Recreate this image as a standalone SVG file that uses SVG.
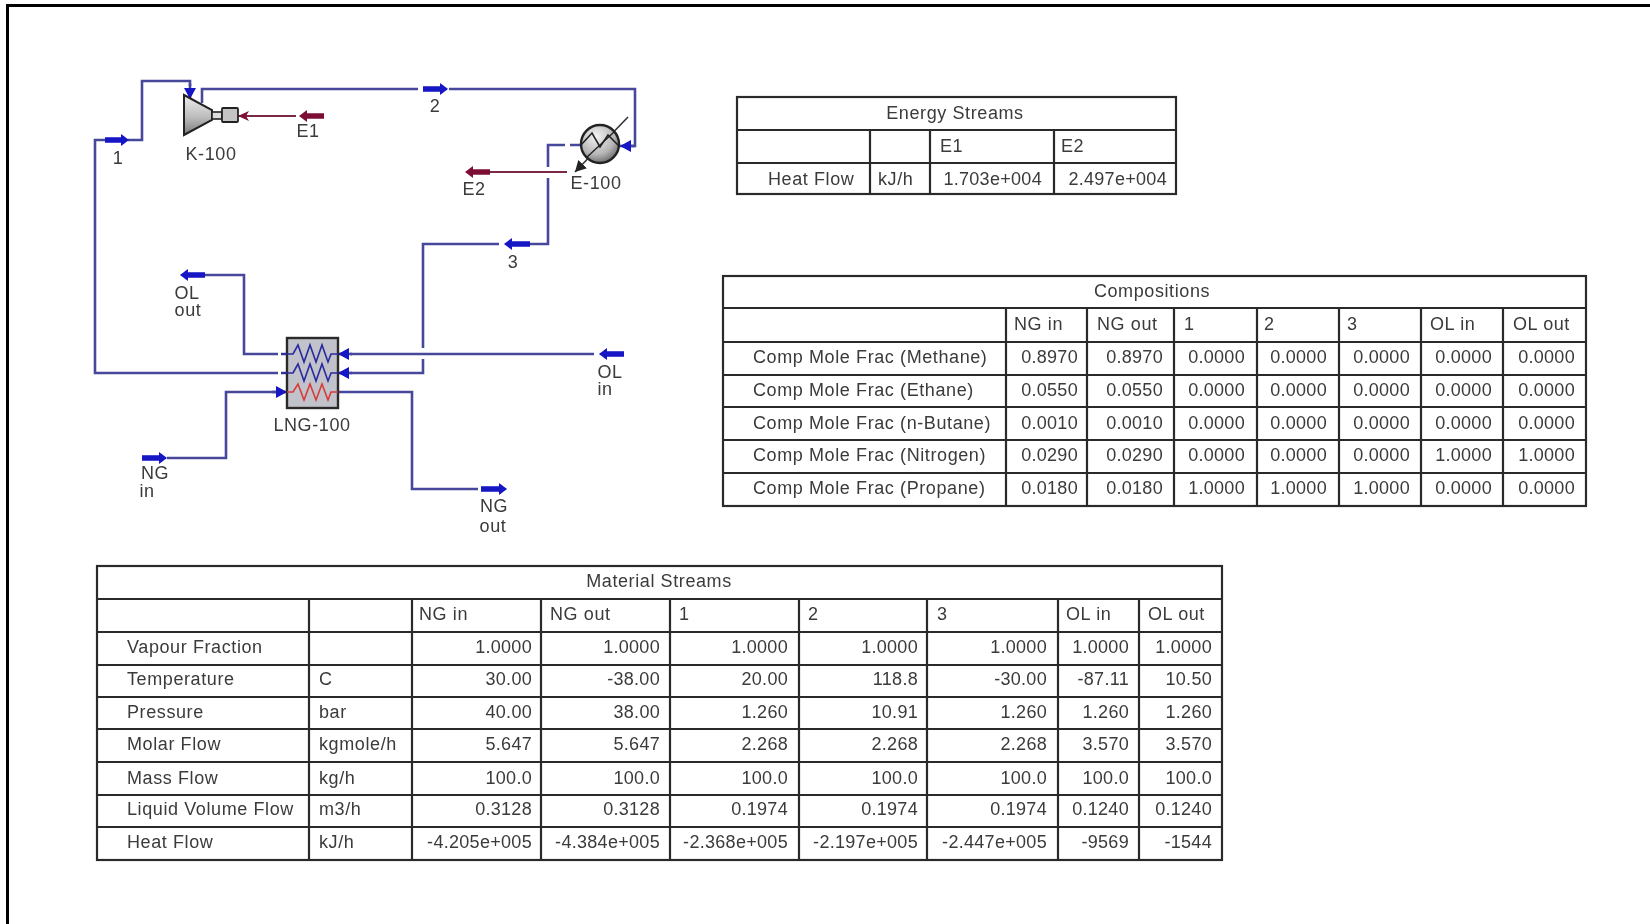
<svg xmlns="http://www.w3.org/2000/svg" width="1650" height="924" viewBox="0 0 1650 924">
<style>
text{font-family:"Liberation Sans",Arial,sans-serif;font-size:18px;letter-spacing:.6px;fill:#3a3a3a}
.r{text-anchor:end;letter-spacing:.3px}.m{text-anchor:middle}
.grid{fill:#fff;stroke:#2b2b2b;stroke-width:2.2}
.c{fill:none;stroke:#46469c;stroke-width:2.6}
.e{fill:none;stroke:#7a2c44;stroke-width:2}
.sm{fill:none;stroke:#1212c4;stroke-width:5.5;marker-end:url(#hb)}
.se{fill:none;stroke:#7d0f35;stroke-width:5.5;marker-end:url(#hr)}
.end{marker-end:url(#ab)}
.ende{marker-end:url(#ar)}
</style>
<defs>
<filter id="soft" x="-2%" y="-2%" width="104%" height="104%"><feGaussianBlur stdDeviation="0.55"/></filter>
<linearGradient id="steel" x1="0" y1="0" x2="0" y2="1"><stop offset="0" stop-color="#eeeeee"/><stop offset=".55" stop-color="#bdbdbd"/><stop offset="1" stop-color="#7b7b7b"/></linearGradient>
<radialGradient id="ball" cx=".4" cy=".3" r=".8"><stop offset="0" stop-color="#f4f4f4"/><stop offset=".6" stop-color="#b5b5b5"/><stop offset="1" stop-color="#555"/></radialGradient>
<marker id="hb" markerUnits="userSpaceOnUse" markerWidth="10" markerHeight="14" refX="1" refY="7" orient="auto"><path d="M0 1L8 7L0 13Z" fill="#1212c4"/></marker>
<marker id="hr" markerUnits="userSpaceOnUse" markerWidth="10" markerHeight="14" refX="1" refY="7" orient="auto"><path d="M0 1L8 7L0 13Z" fill="#7d0f35"/></marker>
<marker id="ab" markerUnits="userSpaceOnUse" markerWidth="12" markerHeight="14" refX="11" refY="7" orient="auto"><path d="M0 1L11 7L0 13Z" fill="#1212c4"/></marker>
<marker id="ar" markerUnits="userSpaceOnUse" markerWidth="12" markerHeight="14" refX="11" refY="7" orient="auto"><path d="M0 2L11 7L0 12L3 7Z" fill="#7d0f35"/></marker>
<marker id="ak" markerUnits="userSpaceOnUse" markerWidth="12" markerHeight="14" refX="11" refY="7" orient="auto"><path d="M0 1L11 7L0 13Z" fill="#222"/></marker>
</defs>
<rect width="1650" height="924" fill="#fff"/>
<path d="M7.5 924V5.5H1650" fill="none" stroke="#000" stroke-width="3"/>
<g filter="url(#soft)">
<g id="connectors">
<path class="c" d="M278 373H95V140H105"/>
<path class="c" d="M128 140H142V81H190V86"/>
<path class="c end" d="M190 84V99" />
<path class="c" d="M202 103V89H418"/>
<path class="c" d="M449 89H635V146H630"/>
<path class="c end" d="M635 146H620"/>
<path class="c" d="M580 145H570M565 145H548V167M548 178V244H530"/>
<path class="c" d="M499 244H423V348M423 359V373H350"/>
<path class="c end" d="M352 373H338"/>
<path class="c" d="M594 354H350"/>
<path class="c end" d="M352 354H338"/>
<path class="c" d="M278 354H244V275H203"/>
<path class="c" d="M167 458H226V392H280"/>
<path class="c end" d="M272 392H287"/>
<path class="c" d="M338 392H412V489H478"/>
<path class="c" d="M281 373H287M281 354H287"/>
<path class="e" d="M296 116H250"/>
<path class="e ende" d="M256 116H238"/>
<path class="e" d="M567 172H490"/>
<path d="M628 117L575 172" fill="none" stroke="#333" stroke-width="1.6" marker-end="url(#ak)"/>
</g>
<g id="node-K-100">
<polygon points="184,95 212,110 212,120 184,135" fill="url(#steel)" stroke="#222" stroke-width="2"/>
<rect x="212" y="112" width="10" height="7" fill="#ddd" stroke="#222" stroke-width="1.6"/>
<rect x="222" y="108" width="16" height="14" rx="1" fill="#c4c4c4" stroke="#222" stroke-width="1.8"/>
<text class="m" x="211" y="160">K-100</text>
</g>
<g id="node-E-100">
<circle cx="600" cy="144" r="19" fill="url(#ball)" stroke="#222" stroke-width="2.4"/>
<path d="M581 145L592 133L600 147L608 135L619 146" fill="none" stroke="#222" stroke-width="1.6"/>
<path d="M614 132L586 158" fill="none" stroke="#222" stroke-width="1.4"/>
<text class="m" x="596" y="189">E-100</text>
</g>
<g id="node-LNG-100">
<rect x="287" y="338" width="51" height="70" fill="#c2c2ca" stroke="#2b2b2b" stroke-width="2.4"/>
<path d="M281 354H293L298 345L304 362L310 345L316 362L322 345L328 362L331 354H338" fill="none" stroke="#2a2aa0" stroke-width="1.6"/>
<path d="M281 373H293L298 364L304 381L310 364L316 381L322 364L328 381L331 373H338" fill="none" stroke="#2a2aa0" stroke-width="1.6"/>
<path d="M287 392H293L298 384L304 400L310 384L316 400L322 384L328 400L331 392H338" fill="none" stroke="#d83a3a" stroke-width="1.6"/>
<text class="m" x="312" y="431">LNG-100</text>
</g>
<g id="stream-1"><path class="sm" d="M105 140H122"/><text class="m" x="118" y="164">1</text></g>
<g id="stream-2"><path class="sm" d="M423 89H441"/><text class="m" x="435" y="112">2</text></g>
<g id="stream-3"><path class="sm" d="M530 244H511"/><text class="m" x="513" y="268">3</text></g>
<g id="stream-E1"><path class="se" d="M324 116H306"/><text class="m" x="308" y="137">E1</text></g>
<g id="stream-E2"><path class="se" d="M490 172H472"/><text class="m" x="474" y="195">E2</text></g>
<g id="stream-OL-out"><path class="sm" d="M205 275H187"/><text class="m" x="187" y="299">OL</text><text class="m" x="188" y="316">out</text></g>
<g id="stream-OL-in"><path class="sm" d="M624 354H606"/><text class="m" x="610" y="378">OL</text><text class="m" x="605" y="395">in</text></g>
<g id="stream-NG-in"><path class="sm" d="M142 458H160"/><text class="m" x="155" y="479">NG</text><text class="m" x="147" y="497">in</text></g>
<g id="stream-NG-out"><path class="sm" d="M481 489H500"/><text class="m" x="494" y="512">NG</text><text class="m" x="493" y="532">out</text></g>

<g id="table-energy">
<rect class="grid" x="737" y="97" width="439" height="97"/>
<path class="grid" d="M737 130H1176M737 163H1176M870 130V194M930 130V194M1054 130V194"/>
<text class="m" x="955" y="119">Energy Streams</text>
<text x="940" y="152">E1</text><text x="1061" y="152">E2</text>
<text x="768" y="185">Heat Flow</text><text x="878" y="185">kJ/h</text>
<text class="r" x="1042" y="185">1.703e+004</text><text class="r" x="1167" y="185">2.497e+004</text>
</g>

<g id="table-compositions">
<rect class="grid" x="723" y="276" width="863" height="230"/>
<path class="grid" d="M723 308H1586M723 342H1586M723 375H1586M723 407H1586M723 440H1586M723 473H1586M1006 308V506M1087 308V506M1174 308V506M1257 308V506M1339 308V506M1421 308V506M1503 308V506"/>
<text class="m" x="1152" y="297">Compositions</text>
<text x="1014" y="330">NG in</text><text x="1097" y="330">NG out</text><text x="1184" y="330">1</text><text x="1264" y="330">2</text><text x="1347" y="330">3</text><text x="1430" y="330">OL in</text><text x="1513" y="330">OL out</text>
<text x="753" y="363">Comp Mole Frac (Methane)</text><text class="r" x="1078" y="363">0.8970</text><text class="r" x="1163" y="363">0.8970</text><text class="r" x="1245" y="363">0.0000</text><text class="r" x="1327" y="363">0.0000</text><text class="r" x="1410" y="363">0.0000</text><text class="r" x="1492" y="363">0.0000</text><text class="r" x="1575" y="363">0.0000</text>
<text x="753" y="396">Comp Mole Frac (Ethane)</text><text class="r" x="1078" y="396">0.0550</text><text class="r" x="1163" y="396">0.0550</text><text class="r" x="1245" y="396">0.0000</text><text class="r" x="1327" y="396">0.0000</text><text class="r" x="1410" y="396">0.0000</text><text class="r" x="1492" y="396">0.0000</text><text class="r" x="1575" y="396">0.0000</text>
<text x="753" y="429">Comp Mole Frac (n-Butane)</text><text class="r" x="1078" y="429">0.0010</text><text class="r" x="1163" y="429">0.0010</text><text class="r" x="1245" y="429">0.0000</text><text class="r" x="1327" y="429">0.0000</text><text class="r" x="1410" y="429">0.0000</text><text class="r" x="1492" y="429">0.0000</text><text class="r" x="1575" y="429">0.0000</text>
<text x="753" y="461">Comp Mole Frac (Nitrogen)</text><text class="r" x="1078" y="461">0.0290</text><text class="r" x="1163" y="461">0.0290</text><text class="r" x="1245" y="461">0.0000</text><text class="r" x="1327" y="461">0.0000</text><text class="r" x="1410" y="461">0.0000</text><text class="r" x="1492" y="461">1.0000</text><text class="r" x="1575" y="461">1.0000</text>
<text x="753" y="494">Comp Mole Frac (Propane)</text><text class="r" x="1078" y="494">0.0180</text><text class="r" x="1163" y="494">0.0180</text><text class="r" x="1245" y="494">1.0000</text><text class="r" x="1327" y="494">1.0000</text><text class="r" x="1410" y="494">1.0000</text><text class="r" x="1492" y="494">0.0000</text><text class="r" x="1575" y="494">0.0000</text>
</g>

<g id="table-material">
<rect class="grid" x="97" y="566" width="1125" height="294"/>
<path class="grid" d="M97 599H1222M97 632H1222M97 665H1222M97 697H1222M97 729H1222M97 762H1222M97 795H1222M97 827H1222M309 599V860M412 599V860M541 599V860M670 599V860M799 599V860M927 599V860M1058 599V860M1139 599V860"/>
<text class="m" x="659" y="587">Material Streams</text>
<text x="419" y="620">NG in</text><text x="550" y="620">NG out</text><text x="679" y="620">1</text><text x="808" y="620">2</text><text x="937" y="620">3</text><text x="1066" y="620">OL in</text><text x="1148" y="620">OL out</text>
<text x="127" y="653">Vapour Fraction</text><text class="r" x="532" y="653">1.0000</text><text class="r" x="660" y="653">1.0000</text><text class="r" x="788" y="653">1.0000</text><text class="r" x="918" y="653">1.0000</text><text class="r" x="1047" y="653">1.0000</text><text class="r" x="1129" y="653">1.0000</text><text class="r" x="1212" y="653">1.0000</text>
<text x="127" y="685">Temperature</text><text x="319" y="685">C</text><text class="r" x="532" y="685">30.00</text><text class="r" x="660" y="685">-38.00</text><text class="r" x="788" y="685">20.00</text><text class="r" x="918" y="685">118.8</text><text class="r" x="1047" y="685">-30.00</text><text class="r" x="1129" y="685">-87.11</text><text class="r" x="1212" y="685">10.50</text>
<text x="127" y="718">Pressure</text><text x="319" y="718">bar</text><text class="r" x="532" y="718">40.00</text><text class="r" x="660" y="718">38.00</text><text class="r" x="788" y="718">1.260</text><text class="r" x="918" y="718">10.91</text><text class="r" x="1047" y="718">1.260</text><text class="r" x="1129" y="718">1.260</text><text class="r" x="1212" y="718">1.260</text>
<text x="127" y="750">Molar Flow</text><text x="319" y="750">kgmole/h</text><text class="r" x="532" y="750">5.647</text><text class="r" x="660" y="750">5.647</text><text class="r" x="788" y="750">2.268</text><text class="r" x="918" y="750">2.268</text><text class="r" x="1047" y="750">2.268</text><text class="r" x="1129" y="750">3.570</text><text class="r" x="1212" y="750">3.570</text>
<text x="127" y="784">Mass Flow</text><text x="319" y="784">kg/h</text><text class="r" x="532" y="784">100.0</text><text class="r" x="660" y="784">100.0</text><text class="r" x="788" y="784">100.0</text><text class="r" x="918" y="784">100.0</text><text class="r" x="1047" y="784">100.0</text><text class="r" x="1129" y="784">100.0</text><text class="r" x="1212" y="784">100.0</text>
<text x="127" y="815">Liquid Volume Flow</text><text x="319" y="815">m3/h</text><text class="r" x="532" y="815">0.3128</text><text class="r" x="660" y="815">0.3128</text><text class="r" x="788" y="815">0.1974</text><text class="r" x="918" y="815">0.1974</text><text class="r" x="1047" y="815">0.1974</text><text class="r" x="1129" y="815">0.1240</text><text class="r" x="1212" y="815">0.1240</text>
<text x="127" y="848">Heat Flow</text><text x="319" y="848">kJ/h</text><text class="r" x="532" y="848">-4.205e+005</text><text class="r" x="660" y="848">-4.384e+005</text><text class="r" x="788" y="848">-2.368e+005</text><text class="r" x="918" y="848">-2.197e+005</text><text class="r" x="1047" y="848">-2.447e+005</text><text class="r" x="1129" y="848">-9569</text><text class="r" x="1212" y="848">-1544</text>
</g>
</g>
</svg>
